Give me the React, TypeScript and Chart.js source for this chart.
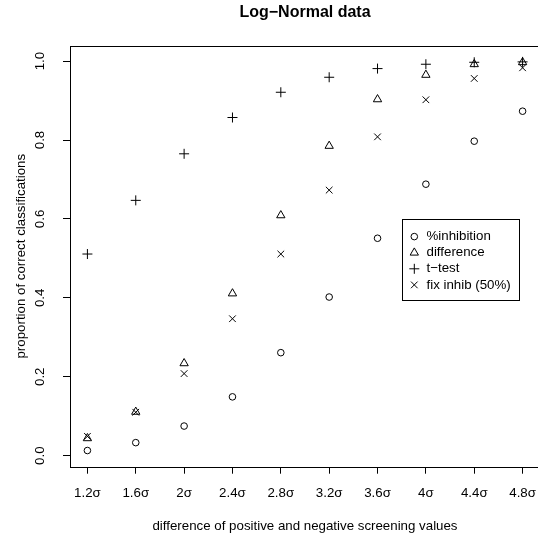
import React, { useEffect, useRef } from "react";
import { Chart, registerables } from "chart.js";

Chart.register(...registerables);

const categories = ["1.2σ", "1.6σ", "2σ", "2.4σ", "2.8σ", "3.2σ", "3.6σ", "4σ", "4.4σ", "4.8σ"];
const inhibition = [0.013, 0.033, 0.075, 0.149, 0.261, 0.402, 0.551, 0.688, 0.797, 0.873];
const difference = [0.044, 0.111, 0.234, 0.411, 0.609, 0.785, 0.903, 0.965, 0.992, 0.997];
const tTest = [0.511, 0.647, 0.765, 0.857, 0.921, 0.959, 0.981, 0.992, 0.997, 0.998];
const fixInhib = [0.049, 0.11, 0.208, 0.347, 0.511, 0.673, 0.808, 0.902, 0.956, 0.983];
const yTicks = [0, 0.2, 0.4, 0.6, 0.8, 1.0];
const yTickLabels = ["0.0", "0.2", "0.4", "0.6", "0.8", "1.0"];
const seriesNames = ["%inhibition", "difference", "t\u2212test", "fix inhib (50%)"];

const FONT = '"Liberation Sans", Arial, Helvetica, sans-serif';
const FS = 13.3;

function drawMarker(ctx: CanvasRenderingContext2D, style: string, x: number, y: number, r: number) {
  ctx.beginPath();
  if (style === "circle") {
    ctx.arc(x, y, r, 0, Math.PI * 2);
  } else if (style === "triangle") {
    ctx.moveTo(x, y - r);
    ctx.lineTo(x + r * Math.sin((2 * Math.PI) / 3), y - r * Math.cos((2 * Math.PI) / 3));
    ctx.lineTo(x + r * Math.sin((4 * Math.PI) / 3), y - r * Math.cos((4 * Math.PI) / 3));
    ctx.closePath();
  } else if (style === "cross") {
    ctx.moveTo(x - r, y);
    ctx.lineTo(x + r, y);
    ctx.moveTo(x, y - r);
    ctx.lineTo(x, y + r);
  } else {
    const d = r * Math.SQRT1_2;
    ctx.moveTo(x - d, y - d);
    ctx.lineTo(x + d, y + d);
    ctx.moveTo(x - d, y + d);
    ctx.lineTo(x + d, y - d);
  }
  ctx.stroke();
}

const styles = ["circle", "triangle", "cross", "crossRot"];
const radii = [3.3, 4.8, 5, 4.7];

const decorPlugin = {
  id: "decor",
  afterDraw(chart: any) {
    const ctx: CanvasRenderingContext2D = chart.ctx;
    const ca = chart.chartArea;
    const xs = chart.scales.x;
    const ys = chart.scales.y;
    ctx.save();
    ctx.strokeStyle = "#000";
    ctx.lineWidth = 1;
    ctx.strokeRect(Math.round(ca.left) + 0.5, Math.round(ca.top) + 0.5, Math.round(ca.right - ca.left), Math.round(ca.bottom - ca.top));

    ctx.fillStyle = "#000";
    ctx.font = `${FS}px ${FONT}`;
    ctx.textAlign = "center";
    ctx.textBaseline = "middle";
    xs.ticks.forEach((t: any) => {
      ctx.fillText(categories[t.value], xs.getPixelForValue(t.value), 493);
    });
    ys.ticks.forEach((t: any, i: number) => {
      ctx.save();
      ctx.translate(40, ys.getPixelForValue(t.value));
      ctx.rotate(-Math.PI / 2);
      ctx.fillText(yTickLabels[i], 0, 0);
      ctx.restore();
    });
    const cx = (ca.left + ca.right) / 2;
    ctx.fillText("difference of positive and negative screening values", cx, 526);
    ctx.save();
    ctx.translate(21.5, (ca.top + ca.bottom) / 2);
    ctx.rotate(-Math.PI / 2);
    ctx.fillText("proportion of correct classifications", 0, 0);
    ctx.restore();
    ctx.font = `bold 16px ${FONT}`;
    ctx.fillText("Log\u2212Normal data", cx, 12.5);

    // legend
    ctx.strokeRect(402.5, 219.5, 117, 81);
    ctx.font = `${FS}px ${FONT}`;
    ctx.textAlign = "left";
    seriesNames.forEach((name, i) => {
      const yy = 236.6 + i * 16.1;
      drawMarker(ctx, styles[i], 414.3, yy, radii[i]);
      ctx.fillText(name, 426.5, yy);
    });
    ctx.restore();
  },
};

export default function App() {
  const ref = useRef<HTMLCanvasElement | null>(null);
  useEffect(() => {
    if (!ref.current) return;
    const mk = (vals: number[]) => vals.map((v, i) => ({ x: i, y: v }));
    const allSeries = [inhibition, difference, tTest, fixInhib];
    const chart = new Chart(ref.current, {
      type: "scatter",
      data: {
        datasets: allSeries.map((s, i) => ({
          label: seriesNames[i],
          data: mk(s),
          pointStyle: styles[i] as any,
          pointRadius: radii[i],
          pointHoverRadius: radii[i],
          borderColor: "#000",
          backgroundColor: "rgba(0,0,0,0)",
          borderWidth: 1,
          showLine: false,
        })),
      },
      options: {
        responsive: false,
        animation: false,
        events: [],
        layout: { padding: { top: 45.7, right: 6, left: 0, bottom: 0 } },
        plugins: { legend: { display: false }, title: { display: false }, tooltip: { enabled: false } },
        scales: {
          x: {
            type: "linear",
            min: -0.36,
            max: 9.36,
            afterBuildTicks: (s: any) => {
              s.ticks = categories.map((_, i) => ({ value: i }));
            },
            afterFit: (s: any) => {
              s.height = 66.3;
            },
            ticks: { display: false },
            border: { display: false },
            grid: { display: true, drawOnChartArea: false, drawTicks: true, tickLength: 7, color: "#000", lineWidth: 1 },
          },
          y: {
            type: "linear",
            min: -0.028,
            max: 1.039,
            afterBuildTicks: (s: any) => {
              s.ticks = yTicks.map((v) => ({ value: v }));
            },
            afterFit: (s: any) => {
              s.width = 70;
            },
            ticks: { display: false },
            border: { display: false },
            grid: { display: true, drawOnChartArea: false, drawTicks: true, tickLength: 7, color: "#000", lineWidth: 1 },
          },
        },
      },
      plugins: [decorPlugin],
    });
    return () => chart.destroy();
  }, []);
  return (
    <div style={{ position: "absolute", left: 0, top: 0, width: 538, height: 533, overflow: "hidden", background: "#fff" }}>
      <canvas ref={ref} width={546} height={533} style={{ width: 546, height: 533, display: "block" }} />
    </div>
  );
}
